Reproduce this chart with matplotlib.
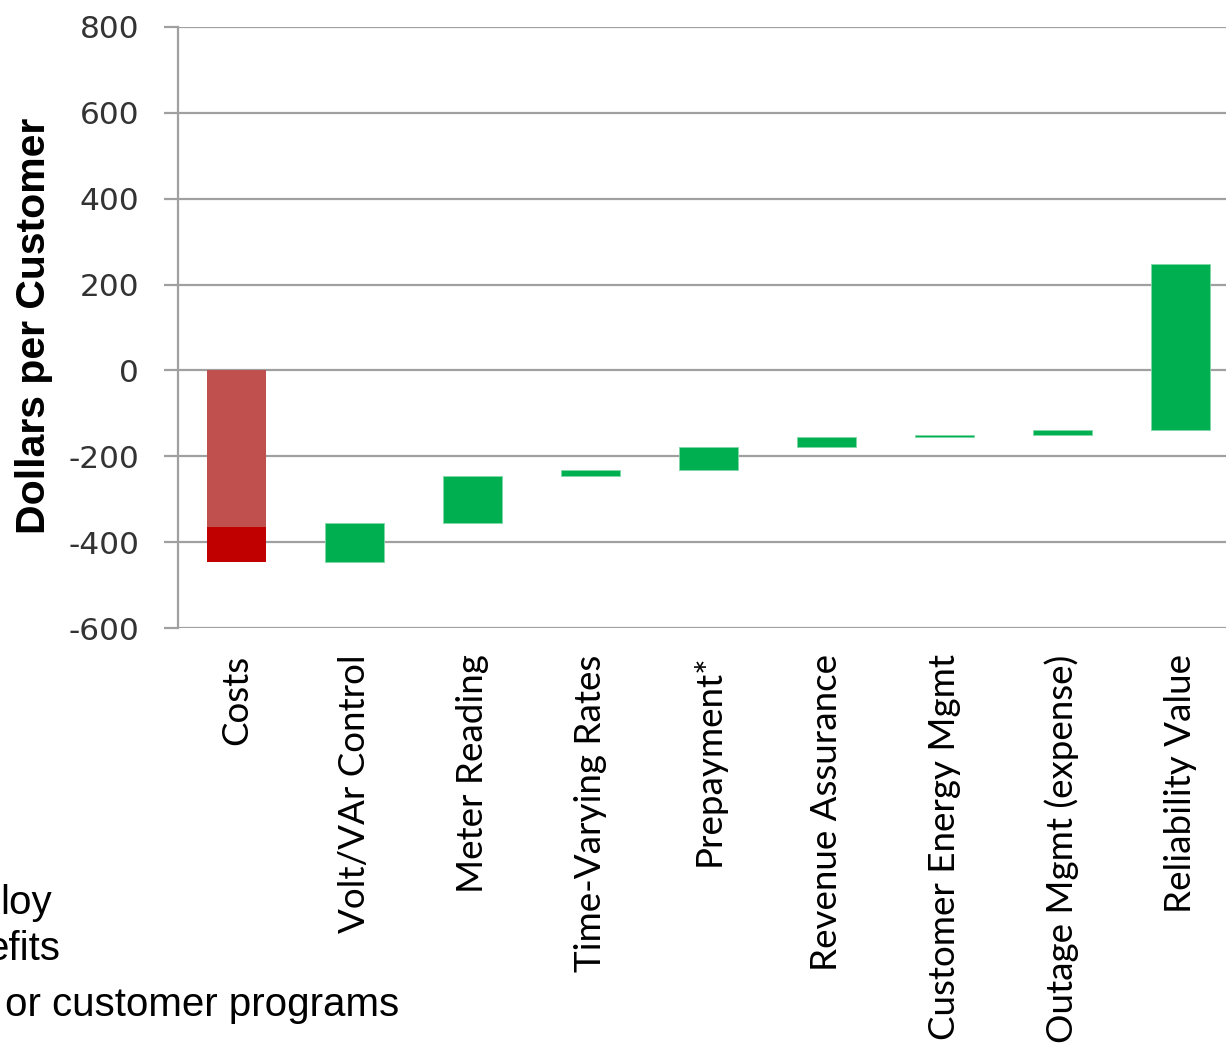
import matplotlib
matplotlib.use("Agg")
import matplotlib.pyplot as plt
import numpy as np

categories = ["Costs", "Volt/VAr Control", "Meter Reading", "Time-Varying Rates",
              "Prepayment*", "Revenue Assurance", "Customer Energy Mgmt",
              "Outage Mgmt (expense)", "Reliability Value"]
cost_components = [-365, -82]          # light red part, dark red part
benefits = [91, 109, 14, 54, 23, 5, 13, 386]
y_ticks = [-600, -400, -200, 0, 200, 400, 600, 800]
side_text = ["loy", "efits", "or customer programs"]

W, H = 1226, 1054
fig = plt.figure(figsize=(W / 100, H / 100), dpi=100)
left, right, top, bottom = 178, 1239, 27, 628
ax = fig.add_axes([left / W, 1 - bottom / H, (right - left) / W, (bottom - top) / H])

x = np.arange(len(categories))
bw = 0.5

# Costs stacked
ax.bar(x[0], cost_components[0], bottom=0, width=bw, color="#C0504D", zorder=3)
ax.bar(x[0], cost_components[1], bottom=cost_components[0], width=bw, color="#C00000", zorder=3)

total_cost = sum(cost_components)
bottoms = total_cost + np.concatenate([[0], np.cumsum(benefits)[:-1]])
ax.bar(x[1:], benefits, bottom=bottoms, width=bw, color="#00B050",
       edgecolor="#7fd8a7", linewidth=0.6, zorder=3)

ax.set_xlim(-0.5, len(categories) - 0.5)
ax.set_ylim(-600, 800)
ax.set_yticks(y_ticks)
ax.set_yticklabels([str(v) for v in y_ticks], fontsize=22.5, color="#333333",
                   family="DejaVu Sans")
ax.yaxis.grid(True, color="#A0A0A0", linewidth=1.6, zorder=0)
ax.set_axisbelow(True)
for s in ["top", "right", "bottom"]:
    ax.spines[s].set_visible(False)
ax.spines["left"].set_color("#A0A0A0")
ax.spines["left"].set_linewidth(1.6)
ax.tick_params(axis="y", length=10, width=1.6, color="#A0A0A0", pad=18)
ax.tick_params(axis="x", length=0, pad=19)
ax.set_xticks(x)
ax.set_xticklabels(categories, rotation=90, fontsize=26.5, family="Lato",
                   color="black", va="top", ha="center")

fig.text(34 / W, 1 - 326 / H, "Dollars per Customer", rotation=90,
         fontsize=29.5, fontweight="bold", family="Liberation Sans",
         ha="center", va="center")

ends = [52, 60, 399]
bases = [914, 960, 1016]
for t, xe, yb in zip(side_text, ends, bases):
    fig.text(xe / W, 1 - yb / H, t, fontsize=29, family="Liberation Sans",
             ha="right", va="baseline", color="black")

fig.savefig("out.png", dpi=100)
